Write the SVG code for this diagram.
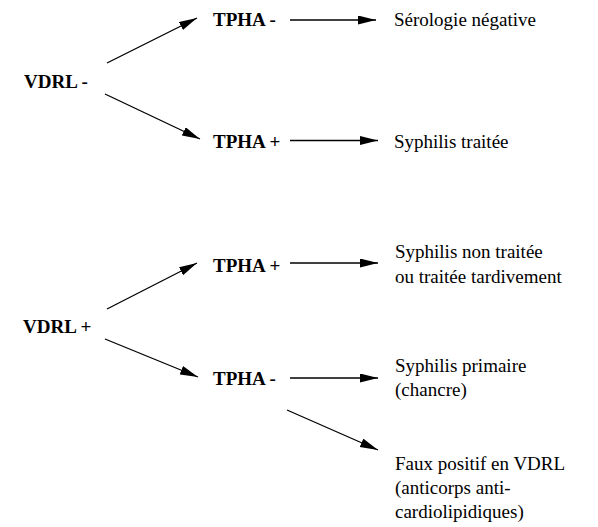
<svg xmlns="http://www.w3.org/2000/svg" width="598" height="527" viewBox="0 0 598 527">
<defs>
<marker id="ah" markerUnits="userSpaceOnUse" markerWidth="20" markerHeight="10" refX="18" refY="4.5" orient="auto">
<path d="M0,0 L18,4.5 L0,9 Z" fill="#000"/>
</marker>
<style>
text{font-size:19px;fill:#000}
.b{font-weight:bold}
.c line{stroke:#000;stroke-width:1.3;marker-end:url(#ah)}
</style>
</defs>
<rect width="598" height="527" fill="#fff"/>
<g font-family="Liberation Serif, DejaVu Serif, serif">
<g id="vdrl-neg"><text class="b" x="24" y="88">VDRL -</text></g>
<g id="tpha-neg-1"><text class="b" x="213" y="26">TPHA -</text></g>
<g id="tpha-pos-1"><text class="b" x="213" y="148">TPHA +</text></g>
<g id="serologie"><text x="394" y="26">Sérologie négative</text></g>
<g id="syph-traitee"><text x="394" y="148">Syphilis traitée</text></g>
<g id="vdrl-pos"><text class="b" x="23" y="333">VDRL +</text></g>
<g id="tpha-pos-2"><text class="b" x="213" y="272">TPHA +</text></g>
<g id="tpha-neg-2"><text class="b" x="213" y="385">TPHA -</text></g>
<g id="syph-non"><text x="395" y="258">Syphilis non traitée</text><text x="395" y="283">ou traitée tardivement</text></g>
<g id="syph-prim"><text x="395" y="372">Syphilis primaire</text><text x="395" y="396">(chancre)</text></g>
<g id="faux-pos"><text x="395" y="470">Faux positif en VDRL</text><text x="395" y="494">(anticorps anti-</text><text x="395" y="518">cardiolipidiques)</text></g>
</g>
<g id="connectors" class="c">
<line x1="107" y1="63" x2="197" y2="18"/>
<line x1="105" y1="94" x2="200" y2="139"/>
<line x1="290" y1="20" x2="376" y2="20"/>
<line x1="290" y1="140.5" x2="378" y2="140.5"/>
<line x1="107" y1="309" x2="197" y2="263"/>
<line x1="105" y1="339" x2="198" y2="377"/>
<line x1="290" y1="263" x2="378" y2="263"/>
<line x1="290" y1="378" x2="378" y2="378"/>
<line x1="287" y1="410" x2="378" y2="450"/>
</g>
</svg>
